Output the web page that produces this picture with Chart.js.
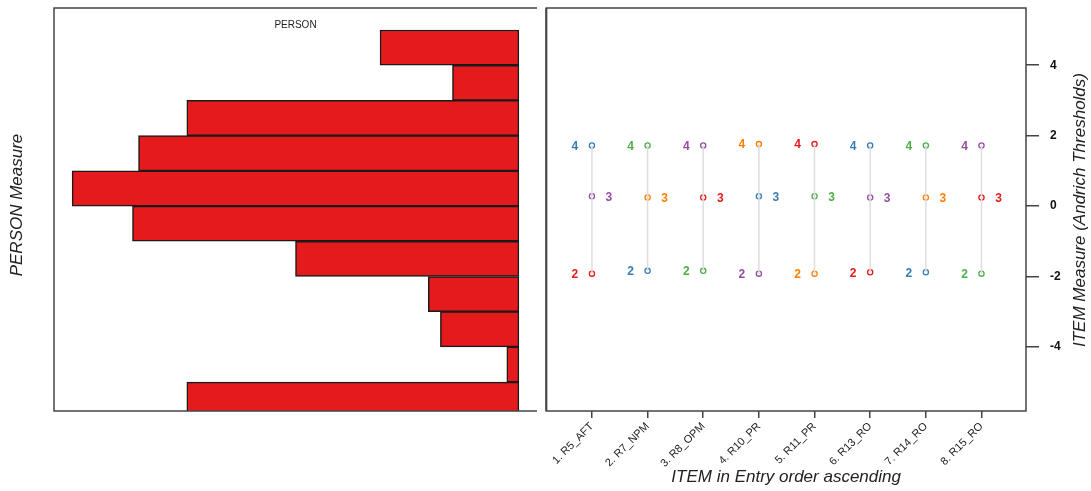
<!DOCTYPE html>
<html>
<head>
<meta charset="utf-8">
<script src="https://cdn.jsdelivr.net/npm/chart.js@4.4.0/dist/chart.umd.min.js"></script>
<style>
  body { margin: 0; background: #fff; }
  #wrap { position: relative; width: 1091px; height: 491px; }
  canvas { position: absolute; top: 0; }
  #person { left: 0; }
  #item { left: 541px; }
</style>
</head>
<body>
<div id="wrap">
  <canvas id="person" width="541" height="491"></canvas>
  <canvas id="item" width="550" height="491"></canvas>
</div>
<script>
// person histogram (bin centre on the measure scale, number of persons)
var personMeasure = [4.5, 3.5, 2.5, 1.5, 0.5, -0.5, -1.5, -2.5, -3.5, -4.5, -5.5];
var personCount = [23, 11, 55, 63, 74, 64, 37, 15, 13, 2, 55];

// items and their Andrich thresholds
var itemNames = ['1. R5_AFT', '2. R7_NPM', '3. R8_OPM', '4. R10_PR', '5. R11_PR', '6. R13_RO', '7. R14_RO', '8. R15_RO'];
var thresh2 = [-1.92, -1.84, -1.84, -1.92, -1.92, -1.88, -1.88, -1.92];
var thresh3 = [0.28, 0.245, 0.245, 0.28, 0.28, 0.245, 0.245, 0.245];
var thresh4 = [1.72, 1.72, 1.72, 1.76, 1.76, 1.72, 1.72, 1.72];
var measureTicks = [-4, -2, 0, 2, 4];

var palette = ['#e41a1c', '#377eb8', '#4daf4a', '#984ea3', '#ff7f00'];
var fontFamily = '"Liberation Sans", Arial, sans-serif';
Chart.defaults.font.family = fontFamily;

var yMin = -5.82, yMax = 5.625;

// frame + titles of the person panel
var personFrame = {
    id: 'personFrame',
    afterDraw: function (chart) {
        var c = chart.ctx, a = chart.chartArea;
        c.save();
        c.strokeStyle = '#444';
        c.lineWidth = 1.5;
        c.beginPath();
        c.moveTo(537, a.top);
        c.lineTo(a.left, a.top);
        c.lineTo(a.left, a.bottom);
        c.lineTo(537, a.bottom);
        c.stroke();
        c.fillStyle = '#222';
        c.textAlign = 'center';
        c.textBaseline = 'middle';
        c.font = '10px ' + fontFamily;
        c.fillText('PERSON', (a.left + 537) / 2, 25);
        c.translate(17, 205);
        c.rotate(-Math.PI / 2);
        c.font = 'italic 17px ' + fontFamily;
        c.fillText('PERSON Measure', 0, 0);
        c.restore();
    }
};

new Chart(document.getElementById('person').getContext('2d'), {
    type: 'bar',
    data: {
        datasets: [{
            data: personMeasure.map(function (m, i) { return { x: personCount[i], y: m }; }),
            backgroundColor: '#e41a1c',
            borderColor: '#1a1a1a',
            borderWidth: 1.5,
            borderSkipped: false,
            barPercentage: 1,
            categoryPercentage: 1
        }]
    },
    options: {
        indexAxis: 'y',
        responsive: false,
        animation: false,
        layout: { padding: { left: 54, right: 4, top: 8, bottom: 80 } },
        plugins: { legend: { display: false }, tooltip: { enabled: false } },
        scales: {
            x: { type: 'linear', display: false, reverse: true, min: -3, max: 77 },
            y: { type: 'linear', display: false, min: yMin, max: yMax, offset: false, grid: { offset: false } }
        }
    },
    plugins: [personFrame]
});

// item panel
var datasets = [];
itemNames.forEach(function (name, i) {
    datasets.push({
        type: 'line',
        data: [{ x: i, y: thresh2[i] }, { x: i, y: thresh4[i] }],
        borderColor: '#dedede',
        borderWidth: 1.5,
        pointRadius: 0
    });
});
[[thresh2, '2', -1, 0], [thresh3, '3', 1, 3], [thresh4, '4', -1, 1]].forEach(function (t) {
    datasets.push({
        type: 'scatter',
        data: t[0].map(function (v, i) { return { x: i, y: v }; }),
        pointRadius: 2.6,
        pointBorderWidth: 1.3,
        pointBackgroundColor: '#fff',
        pointBorderColor: itemNames.map(function (n, i) { return palette[(i + t[3]) % 5]; }),
        stepLabel: t[1],
        labelSide: t[2]
    });
});

var itemFrame = {
    id: 'itemFrame',
    afterDatasetsDraw: function (chart) {
        var c = chart.ctx;
        c.save();
        c.font = 'bold 12px ' + fontFamily;
        c.textAlign = 'center';
        c.textBaseline = 'middle';
        chart.data.datasets.forEach(function (ds, di) {
            if (!ds.stepLabel) return;
            chart.getDatasetMeta(di).data.forEach(function (pt, i) {
                c.fillStyle = ds.pointBorderColor[i];
                c.fillText(ds.stepLabel, pt.x + ds.labelSide * 17, pt.y + 1);
            });
        });
        c.restore();
    },
    afterDraw: function (chart) {
        var c = chart.ctx, a = chart.chartArea;
        c.save();
        c.strokeStyle = '#444';
        c.lineWidth = 1.5;
        c.strokeRect(a.left, a.top, a.right - a.left, a.bottom - a.top);
        c.lineWidth = 2;
        c.beginPath();
        c.moveTo(a.left, a.top);
        c.lineTo(a.left, a.bottom);
        c.stroke();
        c.fillStyle = '#222';
        c.textAlign = 'center';
        c.textBaseline = 'middle';
        c.font = 'italic 17px ' + fontFamily;
        c.fillText('ITEM in Entry order ascending', (a.left + a.right) / 2, 477);
        c.translate(539, 210);
        c.rotate(-Math.PI / 2);
        c.fillText('ITEM Measure (Andrich Thresholds)', 0, 0);
        c.restore();
    }
};

new Chart(document.getElementById('item').getContext('2d'), {
    type: 'scatter',
    data: { datasets: datasets },
    options: {
        responsive: false,
        animation: false,
        layout: { padding: { left: 3, right: 0, top: 8, bottom: 0 } },
        plugins: { legend: { display: false }, tooltip: { enabled: false } },
        scales: {
            x: {
                type: 'linear',
                min: -0.82,
                max: 7.8,
                afterBuildTicks: function (s) { s.ticks = itemNames.map(function (n, i) { return { value: i }; }); },
                afterFit: function (s) { s.height = 80; s.paddingLeft = 0; s.paddingRight = 0; },
                ticks: {
                    autoSkip: false,
                    maxRotation: 45,
                    minRotation: 45,
                    padding: 2,
                    color: '#222',
                    font: { size: 11 },
                    callback: function (v) { return itemNames[v]; }
                },
                grid: { drawOnChartArea: false, tickLength: 7, color: '#444', lineWidth: 1.5 },
                border: { display: false }
            },
            y: {
                type: 'linear',
                position: 'right',
                min: yMin,
                max: yMax,
                afterBuildTicks: function (s) { s.ticks = measureTicks.map(function (v) { return { value: v }; }); },
                afterFit: function (s) { s.width = 65; s.paddingTop = 0; s.paddingBottom = 0; },
                ticks: {
                    padding: 11,
                    color: '#111',
                    font: { size: 12, weight: 'bold' }
                },
                grid: { drawOnChartArea: false, tickLength: 13, color: '#444', lineWidth: 1.5 },
                border: { display: false }
            }
        }
    },
    plugins: [itemFrame]
});
</script>
</body>
</html>
